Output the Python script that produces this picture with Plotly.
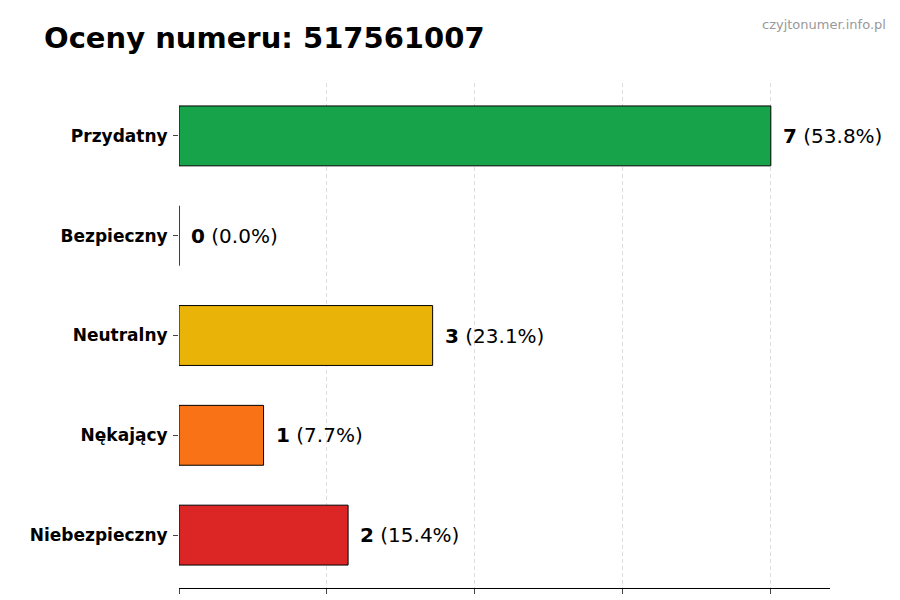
import plotly.graph_objects as go

categories = ["Przydatny", "Bezpieczny", "Neutralny", "Nękający", "Niebezpieczny"]
counts = [7, 0, 3, 1, 2]
percents = ["53.8%", "0.0%", "23.1%", "7.7%", "15.4%"]
colors = ["#16a34a", "#2563eb", "#eab308", "#f97316", "#dc2626"]

fig = go.Figure(go.Bar(
    y=categories, x=counts, orientation="h", width=0.6,
    marker=dict(color=colors, line=dict(color="black", width=1)),
    hoverinfo="skip",
))

for c, n, p in zip(categories, counts, percents):
    fig.add_annotation(x=n, y=c, text=f"<b>{n}</b> ({p})", showarrow=False,
                       xanchor="left", xshift=10, font=dict(size=20, color="black"))

fig.update_layout(
    width=900, height=600, plot_bgcolor="white", paper_bgcolor="white",
    margin=dict(l=171, r=78, t=75, b=20, autoexpand=False),
    font=dict(family="DejaVu Sans", color="black"),
    showlegend=False,
)
fig.add_annotation(text="<b>Oceny numeru: 517561007</b>", xref="paper", yref="paper",
                   x=-0.2104, y=1.089, xanchor="left", yanchor="middle", showarrow=False,
                   font=dict(size=29, color="black"))
fig.add_annotation(text="czyjtonumer.info.pl", xref="paper", yref="paper",
                   x=1.089, y=1.115, xanchor="right", yanchor="middle", showarrow=False,
                   font=dict(size=13, color="#999999"))
fig.update_xaxes(range=[0, 7.7], tickvals=[0, 1.75, 3.5, 5.25, 7], showticklabels=False,
                 showgrid=True, gridcolor="#dddddd", griddash="4px,3px", gridwidth=1,
                 showline=True, linecolor="black", ticks="outside", ticklen=5,
                 zeroline=False, automargin=False)
fig.update_yaxes(categoryorder="array", categoryarray=categories[::-1],
                 range=[-0.53, 4.53], ticks="outside", ticklen=5,
                 tickfont=dict(size=17, family="DejaVu Sans"), showline=False,
                 ticklabelstandoff=2, automargin=False,
                 tickprefix="<b>", ticksuffix="</b>")

fig.write_html("out.html")
